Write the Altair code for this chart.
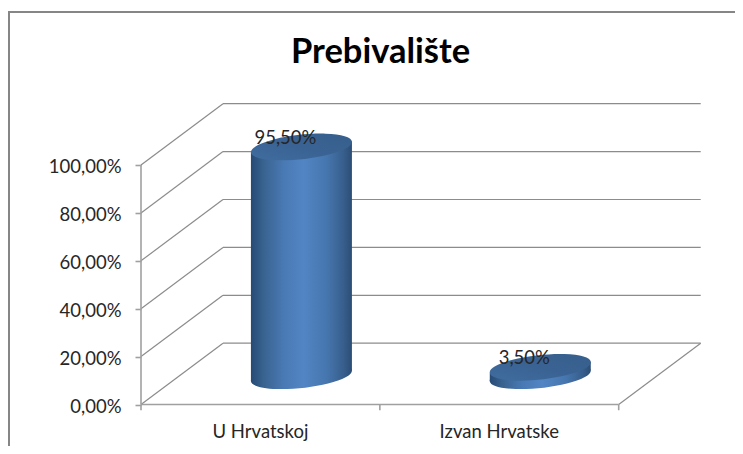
import altair as alt
import pandas as pd

categories = ["U Hrvatskoj", "Izvan Hrvatske"]
values = [95.5, 3.5]
y_ticks = [0, 20, 40, 60, 80, 100]
x_ticks = [0, 1, 2]

W, H = 727, 438
PX_X = 238.85      # pixels per category
PX_Y = 2.395       # pixels per percentage point
X0, Y0 = 133.0, 396.5  # front-plane origin inside the chart
DX = 82 / PX_X     # wall depth in x units
DY = 61.3 / PX_Y   # wall depth in y units
CYL_DX = DX / 2
CYL_DY = 28.8 / PX_Y
TILT = 5.5 / PX_Y
HALF = 50.5 / PX_X

x_scale = alt.Scale(domain=[-X0 / PX_X, (W - X0) / PX_X], range=[0, W], nice=False, zero=False)
y_scale = alt.Scale(domain=[(Y0 - H) / PX_Y, Y0 / PX_Y], range=[H, 0], nice=False, zero=False)
y_axis = alt.Axis(
    values=y_ticks,
    offset=-X0,
    domain=False,
    grid=False,
    title=None,
    tickSize=6,
    tickWidth=1.6,
    tickColor="#a0a0a0",
    labelPadding=14,
    labelOffset=1.5,
    labelFont="Lato",
    labelFontSize=18.5,
    labelColor="#262626",
    labelExpr="replace(format(datum.value, '.2f'), '.', ',') + '%'",
)
X = alt.X("x:Q", scale=x_scale, axis=None)
X2 = alt.X2("x2:Q")
Y = alt.Y("y:Q", scale=y_scale, axis=y_axis)
Y2 = alt.Y2("y2:Q")

LINE = "#8c8c8c"

walls = pd.DataFrame(
    [dict(x=DX, x2=2 + DX, y=v + DY, y2=v + DY) for v in y_ticks]
    + [dict(x=0, x2=DX, y=v, y2=v + DY) for v in y_ticks]
    + [dict(x=2, x2=2 + DX, y=0, y2=DY)]
)
axes = pd.DataFrame(
    [dict(x=0, x2=2, y=0, y2=0), dict(x=0, x2=0, y=0, y2=100)]
    + [dict(x=t, x2=t, y=0, y2=-2.4) for t in x_ticks]
)
wall_layer = alt.Chart(walls).mark_rule(color=LINE, strokeWidth=1.2).encode(x=X, x2=X2, y=Y, y2=Y2)
axis_layer = alt.Chart(axes).mark_rule(color="#a0a0a0", strokeWidth=1.6).encode(x=X, x2=X2, y=Y, y2=Y2)

body_fill = alt.LinearGradient(
    gradient="linear",
    x1=0, x2=1, y1=0, y2=0,
    stops=[
        alt.GradientStop(offset=0, color="#264a75"),
        alt.GradientStop(offset=0.12, color="#38628f"),
        alt.GradientStop(offset=0.33, color="#4a7ab5"),
        alt.GradientStop(offset=0.52, color="#5285c4"),
        alt.GradientStop(offset=0.75, color="#4676ae"),
        alt.GradientStop(offset=0.92, color="#375e8c"),
        alt.GradientStop(offset=1, color="#2b4d76"),
    ],
)
cap_fill = alt.LinearGradient(
    gradient="linear",
    x1=0, x2=1, y1=1, y2=0,
    stops=[
        alt.GradientStop(offset=0, color="#3f6c9f"),
        alt.GradientStop(offset=0.5, color="#3a6393"),
        alt.GradientStop(offset=1, color="#375f8d"),
    ],
)
ELLIPSE = "M -1 0.109 A 1.006 0.24 -6.2 1 1 1 -0.109 A 1.006 0.24 -6.2 1 1 -1 0.109 Z"
ELLIPSE_SIZE = 101 ** 2

cx = [i + 0.5 + CYL_DX for i in range(len(categories))]
body_rows = []
for name, c, v in zip(categories, cx, values):
    body_rows.append(dict(cat=name, x=c - HALF, y=v + CYL_DY - TILT, y2=CYL_DY - TILT))
    body_rows.append(dict(cat=name, x=c + HALF, y=v + CYL_DY + TILT, y2=CYL_DY + TILT))
bodies = pd.DataFrame(body_rows)
tops = pd.DataFrame({"cat": categories, "x": cx, "y": [v + CYL_DY for v in values],
                     "label": [f"{v:.2f}".replace(".", ",") + "%" for v in values]})
bottoms = pd.DataFrame({"cat": categories, "x": cx, "y": [CYL_DY] * len(values)})

bottom_layer = alt.Chart(bottoms).mark_point(
    shape=ELLIPSE, size=ELLIPSE_SIZE, filled=True, fill=body_fill, opacity=1, strokeWidth=0
).encode(x=X, y=Y)
body_layer = alt.Chart(bodies).mark_area(fill=body_fill, opacity=1, interpolate="linear").encode(
    x=X, y=Y, y2=Y2, detail="cat:N"
)
top_layer = alt.Chart(tops).mark_point(
    shape=ELLIPSE, size=ELLIPSE_SIZE, filled=True, fill=cap_fill, opacity=1, strokeWidth=0
).encode(x=X, y=Y)
label_layer = alt.Chart(tops).mark_text(
    font="Lato", fontSize=18.5, color="#262626", align="center", baseline="alphabetic", dx=-16, dy=-3
).encode(x=X, y=Y, text="label:N")

cat_labels = pd.DataFrame({"x": [i + 0.5 for i in range(len(categories))], "y": [0] * len(categories), "label": categories})
cat_layer = alt.Chart(cat_labels).mark_text(
    font="Lato", fontSize=18.5, color="#262626", align="center", baseline="alphabetic", dy=33.5
).encode(x=X, y=Y, text="label:N")

frame_left = alt.Chart(pd.DataFrame({"a": [0]})).mark_rule(color="#868686", strokeWidth=2).encode(
    x=alt.value(1), y=alt.value(4), y2=alt.value(H)
)
frame_top = alt.Chart(pd.DataFrame({"a": [0]})).mark_rule(color="#868686", strokeWidth=2).encode(
    y=alt.value(4), x=alt.value(0), x2=alt.value(W)
)

chart = (
    alt.layer(
        frame_left, frame_top, wall_layer, axis_layer,
        bottom_layer, body_layer, top_layer, label_layer, cat_layer,
    )
    .resolve_scale(x="shared", y="shared")
    .properties(
        width=W,
        height=H,
        padding=0,
        background="white",
        autosize=alt.AutoSizeParams(type="none"),
        title=alt.TitleParams(
            "Prebivalište", font="Lato", fontSize=34.5, fontWeight="bold", color="#000000",
            anchor="middle", dx=9, dy=62, offset=0,
        ),
    )
    .configure_view(stroke=None)
)
chart.save("out.html", embed_options={"renderer": "svg", "actions": False})
